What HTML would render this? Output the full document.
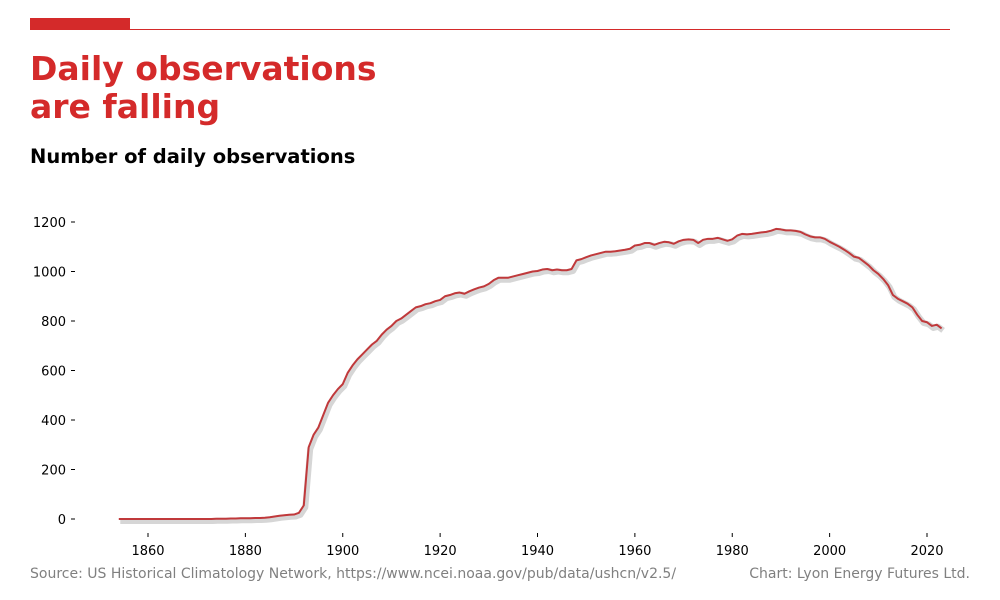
<!DOCTYPE html>
<html><head><meta charset="utf-8"><style>
body{margin:0;background:#fff;font-family:"DejaVu Sans","Liberation Sans",sans-serif;}
#wrap{position:relative;width:1000px;height:600px;overflow:hidden}
.t{position:absolute;white-space:nowrap}
</style></head><body>
<div id="wrap">
<div class="t" style="left:30px;top:18px;width:100px;height:12px;background:#d42a2a"></div>
<div class="t" style="left:30px;top:29px;width:920px;height:1px;background:#d42a2a"></div>
<div class="t" style="left:30px;top:50px;font-size:33px;font-weight:bold;color:#d42a2a;line-height:38px">Daily observations<br>are falling</div>
<div class="t" style="left:30px;top:145px;font-size:19.5px;font-weight:bold;color:#000">Number of daily observations</div>
<div class="t" style="left:30px;top:566px;font-size:14px;color:#808080">Source: US Historical Climatology Network, https://www.ncei.noaa.gov/pub/data/ushcn/v2.5/</div>
<div class="t" style="right:30px;top:566px;font-size:14px;color:#808080">Chart: Lyon Energy Futures Ltd.</div>
<svg id="chart" width="1000" height="600" style="position:absolute;left:0;top:0"></svg>
</div>
<script>
const years=[];for(let y=1854;y<=2023;y++)years.push(y);
const obs=[0,0,0,0,0,0,0,0,0,0,0,0,0,0,0,0,0,0,0,0,
1,1,1,2,2,3,3,3,4,4,5,7,10,13,15,17,18,25,55,290,
340,370,420,470,500,525,545,590,620,645,665,685,705,720,745,765,780,800,810,825,
840,855,860,868,872,880,885,900,905,912,915,910,920,928,935,940,950,965,975,975,
975,980,985,990,995,1000,1002,1008,1010,1005,1008,1005,1005,1010,1045,1050,1058,1065,1070,1075,
1080,1080,1082,1085,1088,1092,1105,1108,1115,1115,1108,1115,1120,1118,1112,1122,1128,1130,1128,1115,
1128,1132,1132,1136,1130,1124,1130,1145,1152,1150,1152,1155,1158,1160,1165,1172,1170,1166,1166,1164,
1160,1150,1142,1138,1138,1132,1120,1110,1100,1088,1075,1060,1055,1040,1025,1005,990,970,945,905,
890,880,870,855,825,800,795,780,785,770];
const yTicks=[0,200,400,600,800,1000,1200];
const xTicks=[1860,1880,1900,1920,1940,1960,1980,2000,2020];
const svg=document.getElementById('chart');const NS='http://www.w3.org/2000/svg';
const xS=y=>148+(y-1860)*779/160;const yS=v=>519-v*297/1200;
function mk(t,a){const e=document.createElementNS(NS,t);for(const k in a)e.setAttribute(k,a[k]);svg.appendChild(e);return e;}
yTicks.forEach(v=>{
 const l=mk('line',{x1:71,x2:75,y1:yS(v),y2:yS(v),stroke:'#000'});
 
 
 const t=mk('text',{x:66,y:yS(v)+5,'text-anchor':'end','font-size':13,fill:'#000','font-family':'DejaVu Sans, Liberation Sans, sans-serif'});
 t.textContent=v;
 
 
});
xTicks.forEach(v=>{
 const l=mk('line',{x1:xS(v),x2:xS(v),y1:533,y2:537,stroke:'#000'});
 
 
 const t=mk('text',{x:xS(v),y:555,'text-anchor':'middle','font-size':13,fill:'#000','font-family':'DejaVu Sans, Liberation Sans, sans-serif'});
 t.textContent=v;
 
 
});
const pts=years.map((y,i)=>xS(y)+','+yS(obs[i])).join(' ');
const raw=mk('polyline',{points:years.map((y,i)=>(xS(y)+1.5)+','+(yS(obs[i])+2)).join(' '),fill:'none',stroke:'#d6d6d6','stroke-width':6,'stroke-linejoin':'round'});


const line=mk('polyline',{points:pts,fill:'none',stroke:'#c0393b','stroke-width':2,'stroke-linejoin':'round'});


</script>
</body></html>
